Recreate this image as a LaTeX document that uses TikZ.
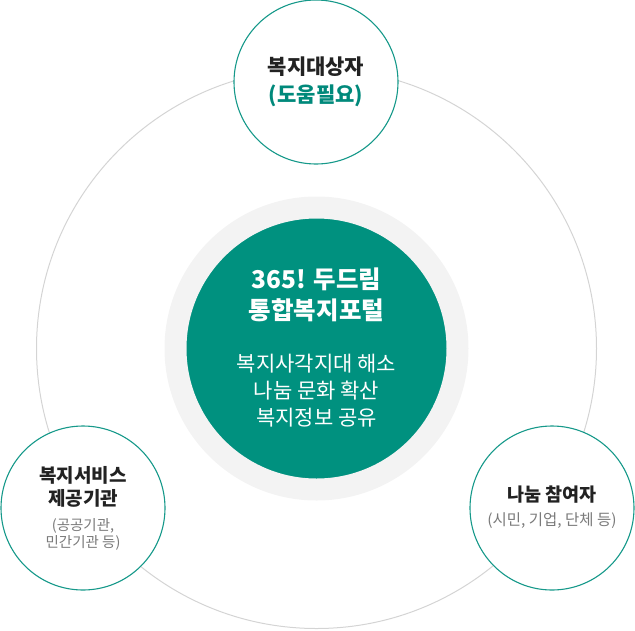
\documentclass[tikz,border=0pt]{standalone}
\usepackage{fontspec}
\setmainfont{Noto Sans CJK KR}
\usetikzlibrary{positioning}

\definecolor{hubteal}{HTML}{00917F}
\definecolor{lineteal}{HTML}{16998A}
\definecolor{textteal}{HTML}{00897B}
\definecolor{halo}{HTML}{F3F3F3}
\definecolor{orbit}{HTML}{D4D4D4}
\definecolor{ink}{HTML}{222222}
\definecolor{muted}{HTML}{7A7A7A}

\begin{document}
\begin{tikzpicture}[
  x=1pt, y=-1pt,
  hub/.style={circle, inner sep=0pt, minimum size=282pt, fill=hubteal, draw=halo, line width=22pt},
  bubble/.style={circle, inner sep=0pt, minimum size=164pt, fill=white, draw=lineteal, line width=1.1pt},
  orbitline/.style={draw=orbit, line width=1pt},
  hubhead/.style={align=center, text=white, font=\bfseries\fontsize{24.5}{31}\selectfont},
  hubsub/.style={align=center, text=white, font=\fontsize{21}{27}\selectfont},
  head/.style={align=center, text=ink, font=\bfseries\fontsize{19}{23}\selectfont},
  sub/.style={align=center, text=muted, font=\fontsize{14.5}{17}\selectfont}
]
\useasboundingbox (0,0) rectangle (635,630);

\draw[orbitline] (316.5,348.5) circle[radius=280];

\node[hub] (portal) at (316.5,348.5) {};
\node[hubhead] (portalname) at (316.5,295) {365! 두드림\\통합복지포털};
\node[hubsub] (portalgoals) at (316.5,391) {복지사각지대 해소\\나눔 문화 확산\\복지정보 공유};

\node[bubble] (target) at (316,82) {};
\node[head, font=\bfseries\fontsize{21}{28}\selectfont] (targetname) at (316,82)
  {복지대상자\\\textcolor{textteal}{(도움필요)}};

\node[bubble] (provider) at (83,508) {};
\node[head] (providername) at (83,487) {복지서비스\\제공기관};
\node[sub] (providernote) at (83,534) {(공공기관,\\민간기관 등)};

\node[bubble] (donor) at (552,508) {};
\node[head, font=\bfseries\fontsize{18.5}{23}\selectfont] (donorname) at (552,495) {나눔 참여자};
\node[sub, font=\fontsize{15.5}{17}\selectfont] (donornote) at (552,521) {(시민, 기업, 단체 등)};

\end{tikzpicture}
\end{document}
